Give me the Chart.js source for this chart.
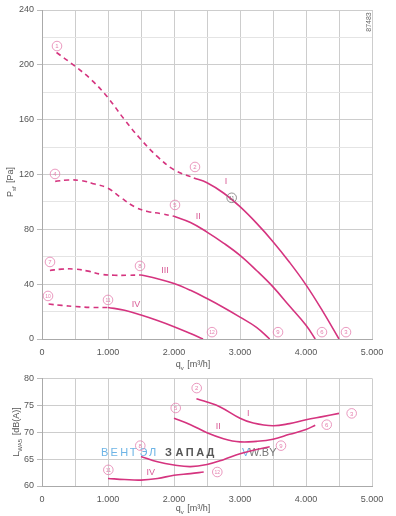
<!DOCTYPE html>
<html>
<head>
<meta charset="utf-8">
<script src="https://cdn.jsdelivr.net/npm/chart.js@4.4.1/dist/chart.umd.min.js"></script>
<style>
  body { margin: 0; background: #fff; }
  #wrap { position: relative; width: 396px; height: 516px; }
  canvas { position: absolute; left: 0; }
</style>
</head>
<body>
<div id="wrap">
  <canvas id="pressure" width="396" height="370" style="top:0"></canvas>
  <canvas id="noise" width="396" height="146" style="top:370px"></canvas>
</div>
<script>
// ---- pressure curves p_sf [Pa] over q_v [m3/h]; dashed = unstable range
const qI_dash = [220, 500, 750, 1000, 1250, 1500, 1750, 2000, 2300];
const pI_dash = [209, 199, 189, 176, 160, 145.5, 133, 123.5, 117.5];
const qI = [2300, 2500, 2750, 3000, 3250, 3500, 3750, 4000, 4250, 4500];
const pI = [117.5, 114, 106.5, 96.5, 84.5, 71, 56, 39.5, 20.5, 0];

const qII_dash = [200, 400, 600, 800, 1000, 1200, 1400, 1600, 1800, 2000];
const pII_dash = [115, 116, 115.5, 113, 110, 103, 96.5, 93, 91.5, 89.5];
const qII = [2000, 2250, 2500, 2750, 3000, 3250, 3500, 3750, 4000, 4140];
const pII = [89.5, 85, 78, 70, 61, 50, 38, 24, 10, 0];

const qIII_dash = [120, 300, 500, 700, 900, 1100, 1300, 1500];
const pIII_dash = [50, 51, 51, 49.5, 47.2, 46.5, 46.5, 46.7];
const qIII = [1500, 1750, 2000, 2250, 2500, 2750, 3000, 3250, 3450];
const pIII = [46.7, 44, 40.5, 35.5, 29.5, 23, 16, 8.5, 0];

const qIV_dash = [100, 300, 500, 750, 1000];
const pIV_dash = [25.5, 24.5, 23.7, 23, 23];
const qIV = [1000, 1250, 1500, 1750, 2000, 2250, 2440];
const pIV = [23, 21, 17.5, 13.5, 9, 4, 0];

// ---- sound power L_WA5 [dB(A)]
const nqI = [2340, 2500, 2700, 3000, 3200, 3500, 3750, 4000, 4250, 4500];
const nI = [76.2, 75.6, 74.7, 72.6, 71.7, 71.2, 71.6, 72.3, 72.9, 73.5];
const nqII = [2000, 2250, 2500, 2750, 3000, 3250, 3500, 3750, 4000, 4140];
const nII = [72.6, 71.4, 69.9, 68.8, 68.2, 68.3, 68.7, 69.6, 70.5, 71.3];
const nqIII = [1500, 1750, 2000, 2250, 2500, 2750, 3000, 3250, 3450];
const nIII = [65.5, 64.5, 63.9, 63.6, 64.0, 64.9, 66, 66.8, 67.3];
const nqIV = [1000, 1250, 1500, 1750, 2000, 2250, 2450];
const nIV = [61.4, 61.2, 61.1, 61.4, 62, 62.3, 62.6];

// operating point markers [q, value, number] and curve names [q, value, name]
const pressureMarks = [[227, 213.7, '1'], [2318, 125.5, '2'], [4606, 5, '3'], [197, 120.4, '4'],
  [2015, 97.8, '5'], [4242, 5, '6'], [121, 56.2, '7'], [1485, 53.3, '8'], [3576, 5, '9'],
  [91, 31.4, '10'], [1000, 28.5, '11'], [2576, 5, '12']];
const pressureNames = [[2788, 114.8, 'I'], [2368, 89.2, 'II'], [1864, 49.6, 'III'], [1424, 25.5, 'IV']];
const noiseMarks = [[2344, 78.2, '2'], [2026, 74.5, '5'], [1489, 67.5, '8'], [1005, 63, '11'],
  [4692, 73.5, '3'], [4314, 71.4, '6'], [3621, 67.5, '9'], [2656, 62.6, '12']];
const noiseNames = [[3126, 73.4, 'I'], [2671, 71.1, 'II'], [1647, 62.5, 'IV']];

const LINE = '#d5347f';
const MARK = '#e57fae';
const FONT = '"Liberation Sans", Arial, sans-serif';

function pts(xs, ys) { return xs.map((x, i) => ({ x: x, y: ys[i] })); }
function line(xs, ys, dashed) {
  return {
    data: pts(xs, ys), borderColor: LINE, borderWidth: 1.6, pointRadius: 0,
    tension: 0.4, borderDash: dashed ? [5, 4] : [], fill: false
  };
}
function qTick(v) { return v % 1000 ? '' : (v === 0 ? '0' : (v / 1000) + '.000'); }

function drawMark(ctx, x, y, txt, color) {
  ctx.save();
  ctx.beginPath();
  ctx.arc(x, y, 4.8, 0, Math.PI * 2);
  ctx.strokeStyle = color; ctx.lineWidth = 0.8; ctx.stroke();
  ctx.fillStyle = color;
  ctx.font = (txt.length > 1 ? '5px ' : '6px ') + FONT;
  ctx.textAlign = 'center'; ctx.textBaseline = 'middle';
  ctx.fillText(txt, x, y + 0.5);
  ctx.restore();
}
// text with a subscript, centred on (x, y), optionally rotated
function subText(ctx, x, y, main, sub, rest, rotated) {
  ctx.save();
  ctx.fillStyle = '#555';
  ctx.font = '9px ' + FONT; const w1 = ctx.measureText(main).width;
  const w3 = ctx.measureText(rest).width;
  ctx.font = '6px ' + FONT; const w2 = ctx.measureText(sub).width;
  const total = w1 + w2 + w3 + 1;
  ctx.translate(x, y);
  if (rotated) ctx.rotate(-Math.PI / 2);
  ctx.textBaseline = 'alphabetic'; ctx.textAlign = 'left';
  let s = -total / 2;
  ctx.font = '9px ' + FONT; ctx.fillText(main, s, 0);
  ctx.font = '6px ' + FONT; ctx.fillText(sub, s + w1, 2.5);
  ctx.font = '9px ' + FONT; ctx.fillText(rest, s + w1 + w2 + 1, 0);
  ctx.restore();
}
function labels(chart, marks, names) {
  const ctx = chart.ctx, xs = chart.scales.x, ys = chart.scales.y;
  marks.forEach(m => drawMark(ctx, xs.getPixelForValue(m[0]), ys.getPixelForValue(m[1]), m[2], MARK));
  ctx.save();
  ctx.fillStyle = '#d85b96'; ctx.font = '9px ' + FONT;
  ctx.textAlign = 'center'; ctx.textBaseline = 'middle';
  names.forEach(n => ctx.fillText(n[2], xs.getPixelForValue(n[0]), ys.getPixelForValue(n[1])));
  ctx.restore();
}

function scales(yMin, yMax, yStep, yLabelEvery, xHeight) {
  return {
    x: {
      type: 'linear', min: 0, max: 5000,
      afterFit: s => { s.height = xHeight; },
      afterBuildTicks: s => { s.ticks = []; for (let v = 0; v <= 5000; v += 500) s.ticks.push({ value: v }); },
      ticks: { callback: qTick, autoSkip: false, maxRotation: 0, padding: 4,
               color: '#555', font: { family: FONT, size: 9 } },
      grid: { color: '#cdcdcd', tickLength: 4, tickColor: 'rgba(0,0,0,0)' },
      border: { color: '#aaa' }
    },
    y: {
      type: 'linear', min: yMin, max: yMax,
      afterFit: s => { s.width = 42; },
      ticks: { stepSize: yStep, padding: 3, color: '#555', font: { family: FONT, size: 9 },
               callback: v => (v % yLabelEvery ? '' : v) },
      grid: {
        tickLength: 5,
        color: c => (c.tick && c.tick.value % yLabelEvery ? '#e4e4e4' : '#cdcdcd'),
        tickColor: c => (c.tick && c.tick.value % yLabelEvery ? 'rgba(0,0,0,0)' : '#bbb')
      },
      border: { color: '#aaa' }
    }
  };
}

new Chart(document.getElementById('pressure'), {
  type: 'line',
  data: {
    datasets: [
      line(qI_dash, pI_dash, true), line(qI, pI, false),
      line(qII_dash, pII_dash, true), line(qII, pII, false),
      line(qIII_dash, pIII_dash, true), line(qIII, pIII, false),
      line(qIV_dash, pIV_dash, true), line(qIV, pIV, false)
    ]
  },
  options: {
    responsive: false, animation: false,
    layout: { padding: { left: 0, right: 24, top: 10, bottom: 0 } },
    plugins: { legend: { display: false }, tooltip: { enabled: false } },
    scales: scales(0, 240, 20, 40, 31)
  },
  plugins: [{
    id: 'pressureText',
    afterDatasetsDraw(chart) {
      labels(chart, pressureMarks, pressureNames);
      const xs = chart.scales.x, ys = chart.scales.y;
      drawMark(chart.ctx, xs.getPixelForValue(2874), ys.getPixelForValue(103), '11', '#777');
    },
    afterDraw(chart) {
      const ctx = chart.ctx;
      subText(ctx, 193, 367, 'q', 'v', ' [m³/h]', false);
      subText(ctx, 13, 182, 'P', 'sf', ' [Pa]', true);
      ctx.save();
      ctx.translate(369, 22); ctx.rotate(-Math.PI / 2);
      ctx.fillStyle = '#666'; ctx.font = '7px ' + FONT;
      ctx.textAlign = 'center'; ctx.textBaseline = 'middle';
      ctx.fillText('87483', 0, 0);
      ctx.restore();
    }
  }]
});

new Chart(document.getElementById('noise'), {
  type: 'line',
  data: {
    datasets: [
      line(nqI, nI, false), line(nqII, nII, false),
      line(nqIII, nIII, false), line(nqIV, nIV, false)
    ]
  },
  options: {
    responsive: false, animation: false,
    layout: { padding: { left: 0, right: 24, top: 6, bottom: 0 } },
    plugins: { legend: { display: false }, tooltip: { enabled: false } },
    scales: scales(60, 80, 5, 5, 30)
  },
  plugins: [{
    id: 'noiseText',
    beforeDatasetsDraw(chart) {
      // site watermark
      const ctx = chart.ctx;
      ctx.save();
      ctx.textBaseline = 'alphabetic'; ctx.textAlign = 'left';
      ctx.font = '11px ' + FONT; ctx.fillStyle = '#6db4e6';
      'ВЕНТЭЛ'.split('').forEach((c, i) => ctx.fillText(c, 101 + i * 9.6, 85.5));
      ctx.font = 'bold 11px ' + FONT; ctx.fillStyle = '#555';
      'ЗАПАД'.split('').forEach((c, i) => ctx.fillText(c, 165 + i * 10.4, 85.5));
      ctx.font = '11px ' + FONT; ctx.fillStyle = '#6db4e6';
      ctx.fillText('V', 242, 85.5);
      ctx.fillStyle = '#777';
      ctx.fillText('W.BY', 249, 85.5);
      ctx.restore();
    },
    afterDatasetsDraw(chart) { labels(chart, noiseMarks, noiseNames); },
    afterDraw(chart) {
      const ctx = chart.ctx;
      subText(ctx, 193, 141, 'q', 'v', ' [m³/h]', false);
      subText(ctx, 19, 62, 'L', 'WA5', ' [dB(A)]', true);
    }
  }]
});
</script>
</body>
</html>
